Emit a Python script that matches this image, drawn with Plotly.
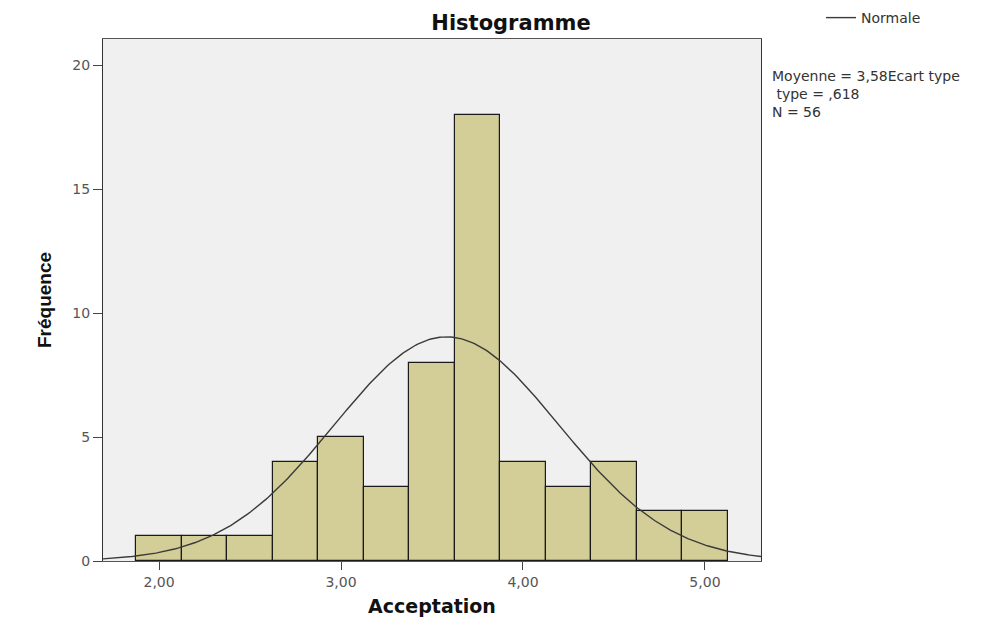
import numpy as np
import plotly.graph_objects as go

# ---- data ----
bin_centers = [2.00, 2.25, 2.50, 2.75, 3.00, 3.25, 3.50, 3.75, 4.00, 4.25, 4.50, 4.75, 5.00]
frequencies = [1, 1, 1, 4, 5, 3, 8, 18, 4, 3, 4, 2, 2]
bin_width = 0.25
mean_val = 3.58
sd_val = 0.618
n_obs = 56
x_tick_vals = [2, 3, 4, 5]
x_tick_text = ["2,00", "3,00", "4,00", "5,00"]
y_tick_vals = [0, 5, 10, 15, 20]
stats_lines = ["Moyenne = 3,58Ecart type", "\u00a0type = ,618", "N = 56"]

x_range = [1.692, 5.308]
y_range = [0, 21.05]

# normal curve fitted from the reported statistics
xc = np.linspace(x_range[0], x_range[1], 300)
yc = n_obs * bin_width / (sd_val * np.sqrt(2 * np.pi)) * np.exp(-0.5 * ((xc - mean_val) / sd_val) ** 2)

W, H = 999, 613
L, R, T, B = 95, 246, 31, 60
PW, PH = W - L - R, H - T - B
PB = T + PH  # plot bottom in figure px

fig = go.Figure()
fig.add_trace(go.Bar(
    x=bin_centers, y=frequencies, width=bin_width,
    marker=dict(color="#D3CE97", line=dict(color="#1a1a1a", width=1.2)),
    showlegend=False,
))
fig.add_trace(go.Scatter(
    x=xc, y=yc, mode="lines", name="Normale",
    line=dict(color="#3a3a3a", width=1.4),
))

fig.update_layout(
    width=W, height=H,
    margin=dict(l=L, r=R, t=T, b=B, autoexpand=False),
    paper_bgcolor="white",
    plot_bgcolor="#F0F0F0",
    bargap=0,
    font=dict(family="DejaVu Sans", size=14, color="#444"),
    title=dict(text="<b>Histogramme</b>", x=503 / W, xanchor="center",
               y=1 - 15 / H, yanchor="middle", yref="container",
               font=dict(family="DejaVu Sans", size=21, color="#111")),
    legend=dict(x=(813 - L) / PW, y=(PB - 10) / PH, xanchor="left", yanchor="middle",
                bgcolor="rgba(0,0,0,0)", font=dict(family="DejaVu Sans", size=14, color="#333")),
    xaxis=dict(range=x_range, tickvals=x_tick_vals, ticktext=x_tick_text,
               ticks="outside", ticklen=8, tickcolor="#444", tickwidth=1.3,
               showgrid=False, zeroline=False,
               showline=True, linecolor="#555", linewidth=1.3, mirror=True,
               tickfont=dict(family="DejaVu Sans", size=14, color="#555"),
               title=dict(text="<b>Acceptation</b>", standoff=10,
                          font=dict(family="DejaVu Sans", size=19, color="#111"))),
    yaxis=dict(range=y_range, tickvals=y_tick_vals,
               ticks="outside", ticklen=9, tickcolor="#444", tickwidth=1.3,
               showgrid=False, zeroline=False,
               showline=True, linecolor="#333", linewidth=1.3, mirror=True,
               tickfont=dict(family="DejaVu Sans", size=14, color="#555"),
               title=dict(text="<b>Fréquence</b>", standoff=15,
                          font=dict(family="Liberation Sans", size=19, color="#111"))),
)

fig.add_annotation(text="<br>".join(stats_lines), xref="paper", yref="paper",
                   x=(762 - L) / PW, y=(PB - 58) / PH,
                   xanchor="left", yanchor="top", align="left", showarrow=False,
                   font=dict(family="DejaVu Sans", size=14, color="#333"))

fig.write_html("out.html")
